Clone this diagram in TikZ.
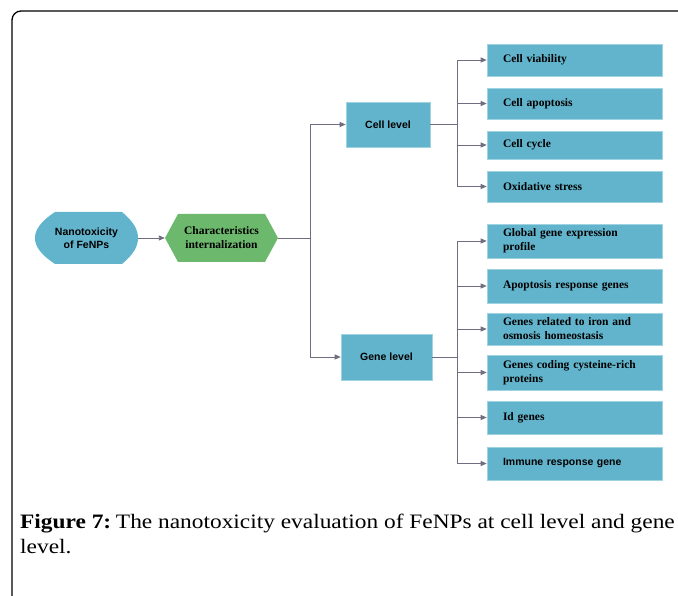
\documentclass[tikz,border=0pt]{standalone}
\usepackage{fontspec}
\setmainfont{Liberation Serif}
\setsansfont{Liberation Sans}
\newfontfamily\capfont[FakeStretch=1.14]{Liberation Serif}
\usetikzlibrary{arrows.meta}
\definecolor{boxblue}{HTML}{62B4CC}
\definecolor{boxedge}{HTML}{9FD3E2}
\definecolor{boxgreen}{HTML}{6CB86D}
\definecolor{linegray}{HTML}{6E6E80}
\begin{document}
\begin{tikzpicture}[x=1pt,y=-1pt,
  conn/.style={draw=linegray, line width=0.9pt},
  arr/.style={conn, -{Triangle[length=6pt,width=5pt]}},
  rbox/.style={rectangle, fill=boxblue, draw=boxedge, line width=0.6pt,
    minimum width=175, text width=143, align=left, inner sep=0pt,
    font=\fontsize{11.5}{14}\selectfont\bfseries},
  sbox/.style={rbox, font=\fontsize{10.5}{14}\sffamily\bfseries},
  lvl/.style={rectangle, fill=boxblue, draw=boxedge, line width=0.6pt,
    inner sep=0pt, align=center, font=\fontsize{10.5}{13}\sffamily\bfseries}
]
\useasboundingbox (0,0) rectangle (678,596);
% frame
\draw[line width=1.3pt, rounded corners=9pt] (12,596) -- (12,11) -- (678,11);

% left shapes
\fill[boxblue] (55,212) -- (122,212) .. controls (134,222) and (138,230) .. (138,238)
  .. controls (138,246) and (134,254) .. (122,264) -- (55,264)
  .. controls (40,254) and (35,246) .. (35,238) .. controls (35,230) and (40,222) .. (55,212) -- cycle;
\node[minimum width=103, minimum height=52, inner sep=0pt, align=center,
  font=\fontsize{10.5}{13}\sffamily\bfseries] (nano) at (86.5,238) {Nanotoxicity\\of FeNPs};

\fill[boxgreen] (165,238) -- (178,214) -- (265,214) -- (278,238) -- (265,262) -- (178,262) -- cycle;
\node[minimum width=113, minimum height=48, inner sep=0pt, align=center,
  font=\fontsize{11.5}{14}\selectfont\bfseries] (char) at (221.5,238) {Characteristics\\internalization};

% level boxes
\node[lvl, minimum width=84, minimum height=45] (cell) at (388,124.5) {Cell level};
\node[lvl, minimum width=91, minimum height=46] (gene) at (386.5,357) {Gene level};

% right boxes
\node[rbox, minimum height=32] (cv) at (574.5,60) {Cell viability};
\node[rbox, minimum height=31] (ca) at (574.5,103.5) {Cell apoptosis};
\node[rbox, minimum height=28] (cc) at (574.5,145) {Cell cycle};
\node[rbox, minimum height=31] (os) at (574.5,186.5) {Oxidative stress};

\node[rbox, minimum height=34] (gg) at (574.5,241) {Global gene expression\\profile};
\node[rbox, minimum height=34] (ar) at (574.5,286) {Apoptosis response genes};
\node[rbox, minimum height=32] (gi) at (574.5,329) {Genes related to iron and\\osmosis homeostasis};
\node[rbox, minimum height=35] (gc) at (574.5,372.5) {Genes coding cysteine-rich\\proteins};
\node[rbox, minimum height=33] (id) at (574.5,417.5) {Id genes};
\node[sbox, minimum height=33] (im) at (574.5,463.5) {Immune response gene};

% connectors
\coordinate (mt) at (310,238);
\coordinate (ct) at (457,124.5);
\coordinate (gt) at (457,357);

\draw[arr] (nano.east) -- (char.west);
\draw[conn] (char.east) -- (mt);
\draw[conn] (mt |- cell.west) -- (mt |- gene.west);
\draw[arr] (mt |- cell.west) -- (cell.west);
\draw[arr] (mt |- gene.west) -- (gene.west);

\draw[conn] (cell.east) -- (ct);
\draw[conn] (ct |- cv.west) -- (ct |- os.west);
\foreach \b in {cv,ca,cc,os} \draw[arr] (ct |- \b.west) -- (\b.west);

\draw[conn] (gene.east) -- (gt);
\draw[conn] (gt |- gg.west) -- (gt |- im.west);
\foreach \b in {gg,ar,gi,gc,id,im} \draw[arr] (gt |- \b.west) -- (\b.west);

% caption
\node[anchor=base west, inner sep=0pt, font=\capfont\fontsize{20.5}{25}\selectfont] (cap1) at (20,528)
  {\textbf{Figure 7:}\hspace{-0.15em} The nanotoxicity evaluation of FeNPs at cell level and gene};
\node[anchor=base west, inner sep=0pt, font=\capfont\fontsize{20.5}{25}\selectfont] (cap2) at (20,553) {level.};
\end{tikzpicture}
\end{document}
